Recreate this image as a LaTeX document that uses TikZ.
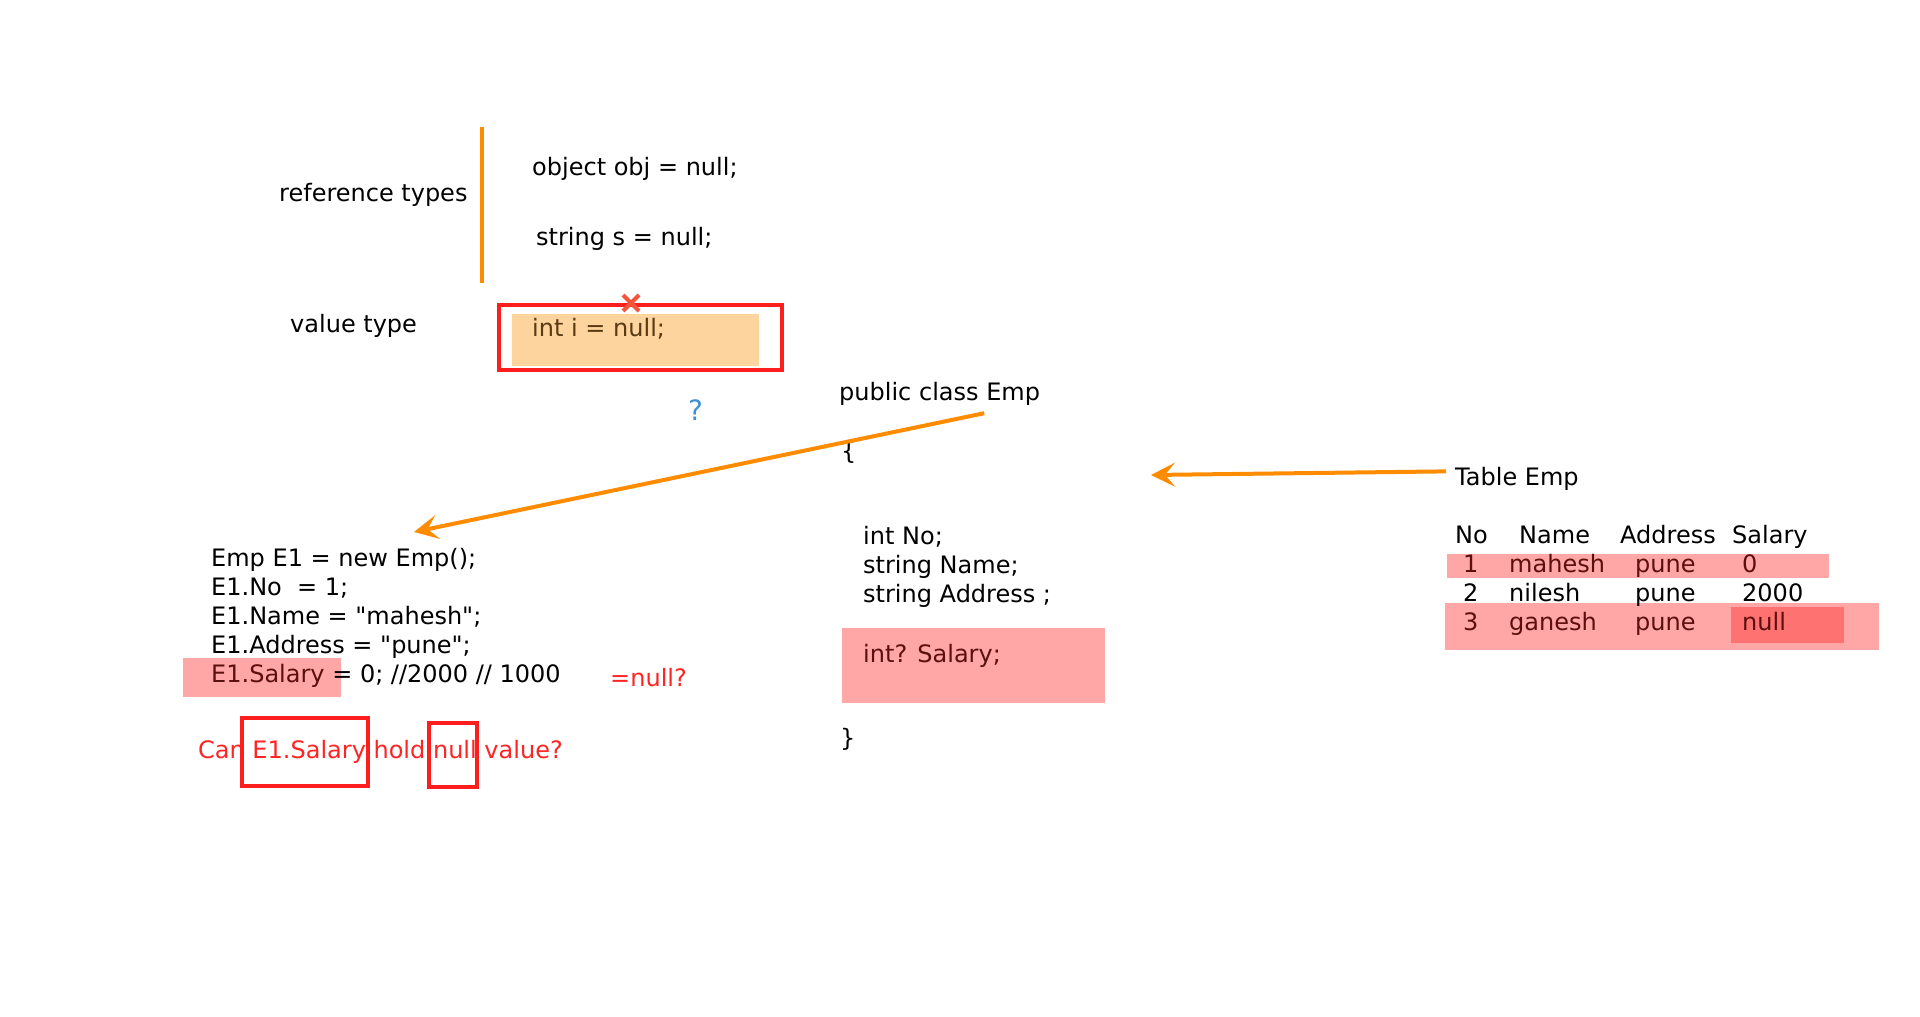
\documentclass[tikz,border=0pt]{standalone}
\usepackage{fontspec}
\setmainfont{DejaVu Sans}[Ligatures=TeXOff]
\usetikzlibrary{arrows.meta, positioning}
\definecolor{lineOrange}{HTML}{FF8C00}
\definecolor{boxRed}{HTML}{FF1E1E}
\definecolor{askRed}{HTML}{FF2424}
\definecolor{peachFill}{HTML}{FDD39E}
\definecolor{pinkFill}{HTML}{FFA6A6}
\definecolor{nullFill}{HTML}{FF7272}
\definecolor{onPink}{HTML}{5C0F0F}
\definecolor{onPeach}{HTML}{5A3A12}
\definecolor{crossRed}{HTML}{F4553A}
\definecolor{askBlue}{HTML}{3D8FD6}

\begin{document}
\begin{tikzpicture}[
    x=1pt, y=-1pt,
    font=\fontsize{24}{29}\selectfont,
    txt/.style={anchor=base west, inner sep=0pt, align=left},
    redbox/.style={draw=boxRed, line width=4pt},
    orarrow/.style={draw=lineOrange, line width=4pt,
                    -{Stealth[length=24pt, width=24pt, inset=10pt]}}
  ]
  \useasboundingbox (0,0) rectangle (1920,1017);

  % highlights behind the text
  \fill[peachFill] (512,314) rectangle (759,366);
  \fill[pinkFill] (842,628) rectangle (1105,703);
  \fill[pinkFill] (183,658) rectangle (341,697);
  \fill[pinkFill] (1447,554) rectangle (1829,578);
  \fill[pinkFill] (1445,603) rectangle (1879,650);
  \fill[nullFill] (1731,607) rectangle (1844,643);

  % reference / value types
  \node[txt] (reftypes) at (279,201) {reference types};
  \draw[lineOrange, line width=4pt] (482,127) -- (482,283);
  \node[txt] (objnull) at (532,175) {object obj = null;};
  \node[txt] (strnull) at (536,245) {string s = null;};
  \node[txt] (valtype) at (290,332) {value type};
  \node[txt, text=onPeach] (intnull) at (532,336) {int i = null;};
  \draw[redbox] (499,305) rectangle (782,370);
  \draw[crossRed, line width=4pt] (623,295) -- (639,311) (623,311) -- (639,295);
  \node[txt, text=askBlue, font=\fontsize{28}{30}\selectfont] (ask) at (688,420) {?};

  % class
  \node[txt] (cls) at (839,400) {public class Emp};
  \node[txt] (lbrace) at (841,459) {\{};
  \node[txt] (fields) at (863,602) {int No;\\string Name;\\string Address ;};
  \node[txt, text=onPink] (salfield) at (863,662) {int? Salary;};
  \node[txt] (rbrace) at (840,746) {\}};

  % object code
  \node[txt] (code) at (211,682) {Emp E1 = new Emp();\\E1.No\ \ = 1;\\E1.Name = "mahesh";\\
    E1.Address = "pune";\\\textcolor{onPink}{E1.Salary} = 0; //2000 // 1000};
  \node[txt, text=askRed] (eqnull) at (610,686) {=null?};
  \node[txt, text=askRed] (canq) at (198,758) {Can E1.Salary hold null value?};
  \draw[redbox] (242,718) rectangle (368,786);
  \draw[redbox] (429,723) rectangle (477,787);

  % table
  \node[txt] (tbltitle) at (1455,485) {Table Emp};
  \node[txt] (hno) at (1455,543) {No};
  \node[txt] (hname) at (1519,543) {Name};
  \node[txt] (haddr) at (1620,543) {Address};
  \node[txt] (hsal) at (1732,543) {Salary};
  \foreach \no/\nm/\sal/\y/\col in {1/mahesh/0/572/onPink, 2/nilesh/2000/601/black,
                                    3/ganesh/null/630/onPink}{
    \node[txt, text=\col] (no\no) at (1463,\y) {\no};
    \node[txt, text=\col] (nm\no) at (1509,\y) {\nm};
    \node[txt, text=\col] (ad\no) at (1635,\y) {pune};
    \node[txt, text=\col] (sa\no) at (1742,\y) {\sal};
  }

  % arrows
  \coordinate (codetip) at (414,532);
  \coordinate (clstip) at (1151,475);
  \draw[orarrow] ([xshift=-56pt, yshift=-8pt]cls.south east) -- (codetip);
  \draw[orarrow] ([xshift=-9pt, yshift=7pt]tbltitle.west) -- (clstip);
\end{tikzpicture}
\end{document}
